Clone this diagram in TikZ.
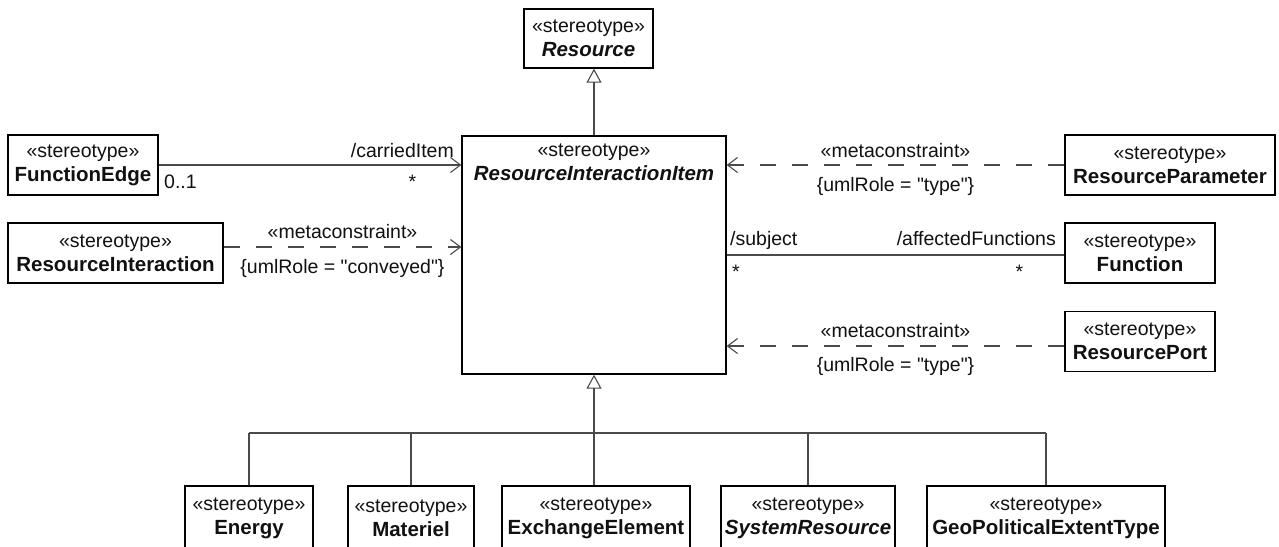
\documentclass[tikz,border=0pt]{standalone}
\usepackage{fontspec}
\setmainfont{Liberation Sans}
\usetikzlibrary{arrows.meta}
\definecolor{linegray}{HTML}{4A4A4A}
\definecolor{textblack}{HTML}{111111}
\newcommand{\stereo}[1]{«stereotype»\\{\fontsize{20.5}{24}\selectfont #1}}
\tikzset{
  stereobox/.style={draw=black, line width=1.3pt, fill=white, align=center, inner sep=0pt, minimum height=60pt, text=textblack},
  assoc/.style={draw=linegray, line width=1.1pt},
  navig/.style={assoc, -{Straight Barb[length=10pt,width=15pt]}},
  metadep/.style={navig, dash pattern=on 16pt off 16pt},
  generalize/.style={assoc, -{Triangle[open, length=14pt, width=15pt]}},
  lbl/.style={text=textblack, inner sep=0pt}
}
\begin{document}
\begin{tikzpicture}[x=1pt, y=-1pt, font=\fontsize{19.5}{24}\selectfont]
    \fill[white] (0,0) rectangle (1279,546);
    \useasboundingbox (0,0) rectangle (1279,546);

    % 顶部
    \node[stereobox, minimum width=129pt, minimum height=59pt] (Resource) at (588.5,38.5) {\stereo{\textbf{\textit{Resource}}}};

    % 中心类
    \node[draw=black, line width=1.3pt, minimum width=264pt, minimum height=238pt, inner sep=0pt] (RII) at (594,255) {};
    \node[lbl, align=center, anchor=north] (RIItitle) at ([yshift=-8pt]RII.north) {\stereo{\textbf{\textit{ResourceInteractionItem}}}};

    % 左侧
    \node[stereobox, minimum width=150pt] (FunctionEdge) at (83,165) {\stereo{\textbf{FunctionEdge}}};
    \node[stereobox, minimum width=215pt] (ResourceInteraction) at (115.5,253) {\stereo{\textbf{ResourceInteraction}}};

    % 右侧
    \node[stereobox, minimum width=210pt] (ResourceParameter) at (1170,165) {\stereo{\textbf{ResourceParameter}}};
    \node[stereobox, minimum width=150pt] (Function) at (1140,253) {\stereo{\textbf{Function}}};
    \node[stereobox, minimum width=150pt] (ResourcePort) at (1140,341.5) {\stereo{\textbf{ResourcePort}}};

    % 底部
    \node[stereobox, minimum width=128pt, minimum height=64pt] (Energy) at (249,518) {\stereo{\textbf{Energy}}};
    \node[stereobox, minimum width=126pt, minimum height=64pt] (Materiel) at (411,518) {\stereo{\textbf{Materiel}}};
    \node[stereobox, minimum width=188pt, minimum height=64pt] (ExchangeElement) at (596,518) {\stereo{\textbf{ExchangeElement}}};
    \node[stereobox, minimum width=174pt, minimum height=64pt] (SystemResource) at (808,518) {\stereo{\textbf{\textit{SystemResource}}}};
    \node[stereobox, minimum width=238pt, minimum height=64pt] (GeoPoliticalExtentType) at (1046,518) {\stereo{\textbf{GeoPoliticalExtentType}}};

    % 泛化
    \draw[generalize] (RII.north) -- (RII.north |- Resource.south);
    \coordinate (bus) at (594,433);
    \draw[generalize] (RII.south |- ExchangeElement.north) -- (RII.south);
    \draw[assoc] (Energy.north |- bus) -- (GeoPoliticalExtentType.north |- bus);
    \foreach \c in {Energy,Materiel,SystemResource,GeoPoliticalExtentType}
        \draw[assoc] (\c.north) -- (\c.north |- bus);

    % 关联
    \draw[navig] (FunctionEdge.east) -- (FunctionEdge.east -| RII.west)
        node[lbl, pos=1, anchor=base east, xshift=-7pt, yshift=8pt] {/carriedItem}
        node[lbl, pos=1, anchor=base, xshift=-49pt, yshift=-23pt] {*}
        node[lbl, pos=0, anchor=base west, xshift=5pt, yshift=-23pt] {0..1};
    \draw[assoc] ([yshift=-2pt]Function.west) -- ([yshift=-2pt]Function.west -| RII.east)
        node[lbl, pos=1, anchor=base west, xshift=3pt, yshift=10pt] {/subject}
        node[lbl, pos=1, anchor=base west, xshift=5pt, yshift=-23pt] {*}
        node[lbl, pos=0, anchor=base east, xshift=-8pt, yshift=10pt] {/affectedFunctions}
        node[lbl, pos=0, anchor=base, xshift=-45pt, yshift=-23pt] {*};

    % 元约束
    \coordinate (riOut) at ([yshift=6pt]ResourceInteraction.east);
    \draw[metadep] (riOut) -- (riOut -| RII.west)
        node[lbl, midway, anchor=base, yshift=9pt] {«metaconstraint»}
        node[lbl, midway, anchor=base, yshift=-26pt] {\{umlRole = \textquotedbl conveyed\textquotedbl\}};
    \draw[metadep] (ResourceParameter.west) -- (ResourceParameter.west -| RII.east)
        node[lbl, midway, anchor=base, yshift=8pt] {«metaconstraint»}
        node[lbl, midway, anchor=base, yshift=-26pt] {\{umlRole = \textquotedbl type\textquotedbl\}};
    \coordinate (rpOut) at ([yshift=-4.5pt]ResourcePort.west);
    \draw[metadep] (rpOut) -- (rpOut -| RII.east)
        node[lbl, midway, anchor=base, yshift=9pt] {«metaconstraint»}
        node[lbl, midway, anchor=base, yshift=-25pt] {\{umlRole = \textquotedbl type\textquotedbl\}};
\end{tikzpicture}
\end{document}
